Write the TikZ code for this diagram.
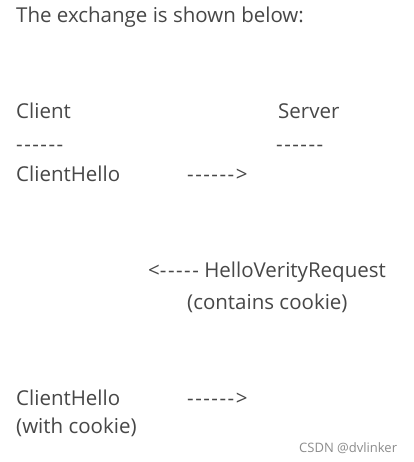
\documentclass[tikz,border=0pt]{standalone}
\usepackage{fontspec}
\setmainfont{Open Sans}[Ligatures=TeXOff]
\newcommand{\hy}{-\kern1.5pt}
\begin{document}
\begin{tikzpicture}[x=1pt,y=-1pt,
  txt/.style={anchor=base west,inner sep=0pt,text=black!72,font=\fontsize{20.5}{24}\selectfont},
  wm/.style={anchor=base west,inner sep=0pt,text=black!45,font=\fontsize{13}{16}\selectfont}]
\useasboundingbox[fill=white] (0,0) rectangle (413,462);
\node[txt] (title) at (16,23) {The exchange is shown below:};
\node[txt] (client) at (16,119) {Client};
\node[txt] (server) at (278,119) {Server};
\node[txt] (cdash) at (16,152) {\hy\hy\hy\hy\hy-};
\node[txt] (sdash) at (276,152) {\hy\hy\hy\hy\hy-};
\node[txt] (ch1) at (16,182) {ClientHello};
\node[txt] (a1) at (187,182) {\hy\hy\hy\hy\hy\hy>};
\node[txt] (hvr) at (148,277) {<\hy\hy\hy\hy- HelloVerityRequest};
\node[txt] (cc) at (187,309) {(contains cookie)};
\node[txt] (ch2) at (16,405) {ClientHello};
\node[txt] (a2) at (187,405) {\hy\hy\hy\hy\hy\hy>};
\node[txt] (wc) at (16,433) {(with cookie)};
\node[wm] (csdn) at (299,452) {CSDN @dvlinker};
\end{tikzpicture}
\end{document}
